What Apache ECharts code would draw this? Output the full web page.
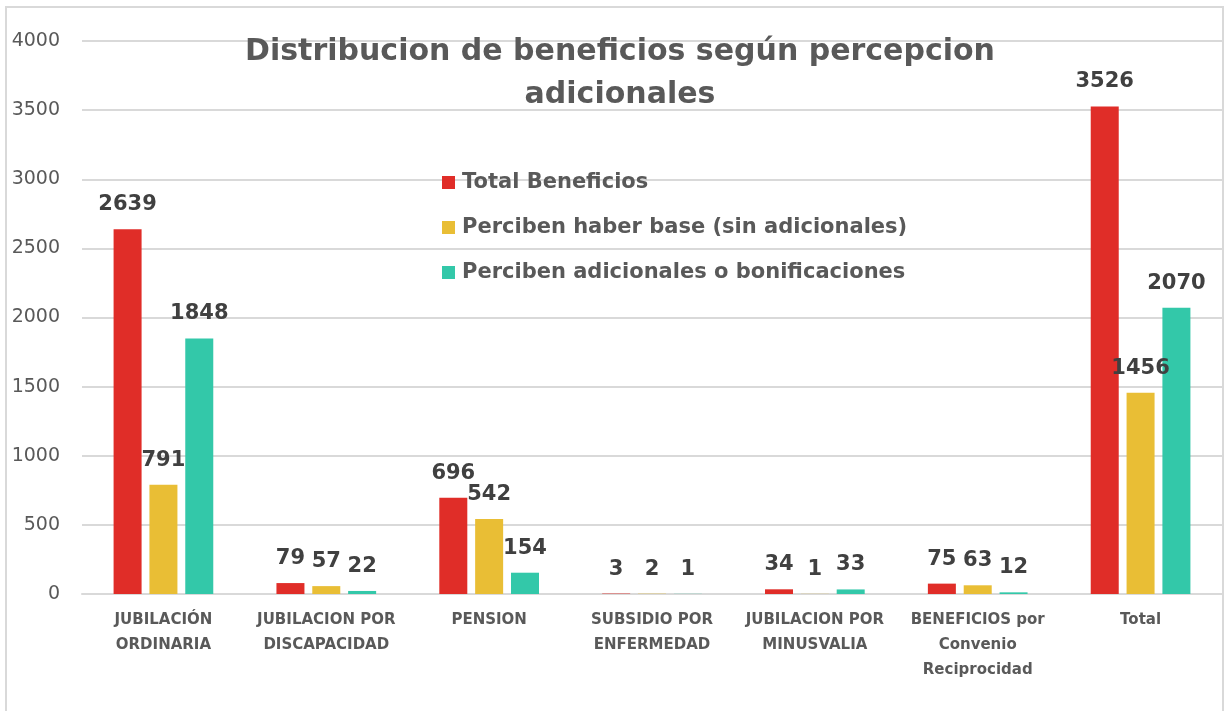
<!DOCTYPE html>
<html>
<head>
<meta charset="utf-8">
<script src="https://cdn.jsdelivr.net/npm/echarts@6/dist/echarts.min.js"></script>
<style>
  html, body { margin: 0; padding: 0; background: #fff; }
  #chart { width: 1225px; height: 711px; }
</style>
</head>
<body>
<div id="chart"></div>
<script>
var categorias = ['JUBILACIÓN\nORDINARIA', 'JUBILACION POR\nDISCAPACIDAD', 'PENSION', 'SUBSIDIO POR\nENFERMEDAD', 'JUBILACION POR\nMINUSVALIA', 'BENEFICIOS por\nConvenio\nReciprocidad', 'Total'];
var totalBeneficios = [2639, 79, 696, 3, 34, 75, 3526];
var haberBase = [791, 57, 542, 2, 1, 63, 1456];
var adicionales = [1848, 22, 154, 1, 33, 12, 2070];
var nombres = ['Total Beneficios', 'Perciben haber base (sin adicionales)', 'Perciben adicionales o bonificaciones'];

var fuente = 'DejaVu Sans';
var myChart = echarts.init(document.getElementById('chart'));

function serie(nombre, datos, color) {
    return {
        name: nombre,
        type: 'bar',
        data: datos,
        barWidth: 28,
        barGap: '28%',
        itemStyle: { color: color },
        label: {
            show: true,
            position: 'top',
            distance: 14,
            color: '#404040',
            fontFamily: fuente,
            fontWeight: 'bold',
            fontSize: 21
        }
    };
}

var option = {
    color: ['#E02D28', '#E9BE35', '#33C8A9'],
    title: {
        text: 'Distribucion de beneficios según percepcion\nadicionales',
        left: 615,
        top: 26,
        textAlign: 'center',
        textStyle: {
            fontFamily: fuente,
            fontSize: 30,
            fontWeight: 'bold',
            color: '#595959',
            lineHeight: 43
        }
    },
    legend: {
        data: nombres,
        orient: 'vertical',
        left: 437,
        top: 167,
        itemGap: 24,
        itemWidth: 13,
        itemHeight: 13,
        icon: 'rect',
        textStyle: {
            fontFamily: fuente,
            fontSize: 21,
            fontWeight: 'bold',
            color: '#595959',
            padding: [0, 0, 0, 2]
        }
    },
    grid: {
        left: 82,
        right: 3,
        top: 41,
        bottom: 117,
        containLabel: false
    },
    xAxis: {
        type: 'category',
        data: categorias,
        axisTick: { show: false },
        axisLine: { lineStyle: { color: '#d9d9d9', width: 2 } },
        axisLabel: {
            interval: 0,
            margin: 14,
            fontFamily: fuente,
            fontSize: 15,
            fontWeight: 'bold',
            color: '#595959',
            lineHeight: 25
        }
    },
    yAxis: {
        type: 'value',
        min: 0,
        max: 4000,
        interval: 500,
        axisLine: { show: false },
        axisTick: { show: false },
        splitLine: { lineStyle: { color: '#d9d9d9', width: 2 } },
        axisLabel: {
            margin: 22,
            fontFamily: fuente,
            fontSize: 19,
            color: '#595959',
            formatter: function (v) { return String(v); }
        }
    },
    graphic: [{
        type: 'rect',
        shape: { x: 6, y: 7, width: 1217, height: 710 },
        style: { fill: 'none', stroke: '#d9d9d9', lineWidth: 2 },
        silent: true
    }],
    series: [
        serie(nombres[0], totalBeneficios, '#E02D28'),
        serie(nombres[1], haberBase, '#E9BE35'),
        serie(nombres[2], adicionales, '#33C8A9')
    ]
};
myChart.setOption(option);
</script>
</body>
</html>
